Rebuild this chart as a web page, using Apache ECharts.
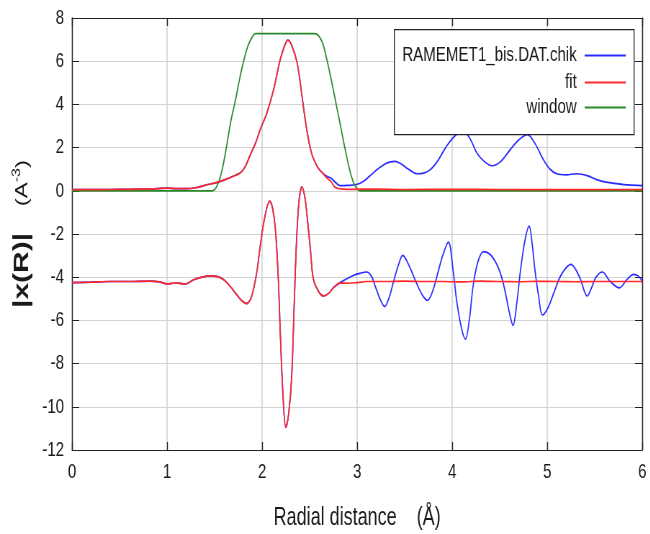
<!DOCTYPE html>
<html>
<head>
<meta charset="utf-8">
<script src="https://cdn.jsdelivr.net/npm/echarts@6/dist/echarts.min.js"></script>
<style>
  html, body { margin: 0; padding: 0; background: #ffffff; overflow: hidden; width: 650px; height: 534px; }
  /* the figure is laid out wide and compressed horizontally */
  #chart { width: 903px; height: 534px; transform: scaleX(0.72); transform-origin: 0 0; }
</style>
</head>
<body>
<div id="chart"></div>
<script>
// |chi(R)| magnitude of the data (upper curve)
const magR = [0, 0.2, 0.4, 0.6, 0.8, 0.9, 1.0, 1.1, 1.2, 1.3, 1.43, 1.52, 1.63, 1.72, 1.77, 1.82, 1.87, 1.93, 1.98, 2.05, 2.12, 2.19, 2.24, 2.27, 2.31, 2.37, 2.42, 2.47, 2.52, 2.58, 2.63, 2.68, 2.72, 2.77, 2.82, 2.9, 2.99, 3.06, 3.13, 3.2, 3.28, 3.34, 3.40, 3.46, 3.52, 3.58, 3.63, 3.70, 3.77, 3.85, 3.94, 4.03, 4.12, 4.19, 4.26, 4.34, 4.42, 4.51, 4.61, 4.70, 4.79, 4.87, 4.96, 5.03, 5.10, 5.2, 5.31, 5.42, 5.52, 5.62, 5.73, 5.85, 6.0];
const magData = [0.05, 0.05, 0.06, 0.07, 0.08, 0.1, 0.12, 0.1, 0.1, 0.14, 0.29, 0.38, 0.55, 0.72, 0.83, 1.1, 1.6, 2.2, 2.83, 3.6, 4.67, 6.06, 6.75, 6.98, 6.75, 5.9, 4.37, 2.83, 1.75, 1.13, 0.85, 0.67, 0.6, 0.4, 0.24, 0.25, 0.29, 0.42, 0.67, 0.95, 1.21, 1.33, 1.36, 1.25, 1.06, 0.88, 0.79, 0.82, 0.98, 1.4, 2.06, 2.55, 2.75, 2.4, 1.75, 1.35, 1.16, 1.35, 1.9, 2.35, 2.6, 2.2, 1.44, 1.0, 0.79, 0.74, 0.79, 0.7, 0.52, 0.4, 0.33, 0.27, 0.24];

// magnitude of the fit
const magFitR = [0, 0.2, 0.4, 0.6, 0.8, 0.9, 1.0, 1.1, 1.2, 1.3, 1.43, 1.52, 1.63, 1.72, 1.77, 1.82, 1.87, 1.93, 1.98, 2.05, 2.12, 2.19, 2.24, 2.27, 2.31, 2.37, 2.42, 2.47, 2.52, 2.58, 2.63, 2.68, 2.72, 2.76, 2.79, 2.85, 2.95, 3.2, 3.5, 4.0, 4.5, 5.0, 5.5, 6.0];
const magFit = [0.05, 0.05, 0.06, 0.07, 0.08, 0.1, 0.12, 0.1, 0.1, 0.14, 0.29, 0.38, 0.55, 0.72, 0.83, 1.1, 1.6, 2.2, 2.83, 3.6, 4.67, 6.06, 6.75, 6.98, 6.75, 5.9, 4.37, 2.83, 1.75, 1.13, 0.85, 0.6, 0.45, 0.2, 0.12, 0.08, 0.07, 0.08, 0.06, 0.07, 0.06, 0.05, 0.05, 0.05];

// Fourier transform window
const winR = [0, 1.47, 1.52, 1.57, 1.62, 1.67, 1.72, 1.76, 1.80, 1.85, 1.90, 1.93, 2.56, 2.60, 2.64, 2.68, 2.73, 2.78, 2.83, 2.87, 2.92, 2.97, 3.03, 6.0];
const winData = [0, 0, 0.18, 0.8, 1.9, 3.2, 4.2, 5.1, 5.9, 6.7, 7.15, 7.28, 7.28, 7.15, 6.8, 6.1, 5.1, 4.0, 2.9, 2.0, 1.0, 0.3, 0, 0];

// real part of the data, shifted down (lower curve)
const reR = [0, 0.2, 0.4, 0.6, 0.82, 0.92, 1.0, 1.06, 1.12, 1.19, 1.28, 1.37, 1.45, 1.52, 1.59, 1.66, 1.73, 1.79, 1.84, 1.88, 1.91, 1.95, 1.98, 2.03, 2.08, 2.11, 2.14, 2.17, 2.19, 2.22, 2.25, 2.28, 2.31, 2.34, 2.36, 2.39, 2.42, 2.45, 2.47, 2.51, 2.54, 2.60, 2.65, 2.70, 2.75, 2.82, 2.96, 3.03, 3.10, 3.15, 3.19, 3.24, 3.29, 3.34, 3.38, 3.43, 3.48, 3.55, 3.63, 3.69, 3.74, 3.79, 3.84, 3.90, 3.96, 4.01, 4.05, 4.10, 4.14, 4.18, 4.22, 4.27, 4.33, 4.40, 4.47, 4.52, 4.56, 4.60, 4.64, 4.68, 4.72, 4.77, 4.81, 4.84, 4.87, 4.91, 4.95, 5.01, 5.07, 5.15, 5.25, 5.30, 5.35, 5.42, 5.47, 5.51, 5.58, 5.66, 5.76, 5.84, 5.91, 5.96, 6.0];
const reData = [-4.25, -4.23, -4.2, -4.2, -4.18, -4.22, -4.31, -4.28, -4.27, -4.32, -4.12, -4.0, -3.94, -3.96, -4.1, -4.4, -4.79, -5.1, -5.22, -5.0, -4.56, -3.6, -2.56, -1.18, -0.48, -0.8, -1.79, -4.0, -6.41, -9.49, -10.95, -10.3, -8.72, -5.0, -2.56, -0.4, 0.18, -0.3, -1.02, -2.8, -4.1, -4.7, -4.87, -4.75, -4.49, -4.25, -3.92, -3.82, -3.76, -3.95, -4.41, -5.0, -5.36, -4.9, -4.25, -3.5, -2.99, -3.5, -4.33, -4.85, -5.07, -4.7, -3.95, -3.0, -2.38, -3.7, -5.18, -6.4, -6.87, -6.0, -4.41, -3.3, -2.82, -2.95, -3.41, -4.0, -4.72, -5.6, -6.23, -5.2, -3.64, -2.2, -1.64, -2.4, -3.64, -4.9, -5.75, -5.4, -4.72, -3.87, -3.41, -3.65, -4.1, -4.87, -4.45, -4.02, -3.76, -4.18, -4.49, -4.1, -3.87, -3.95, -4.18];

// real part of the fit, shifted down
const reFitR = [0, 0.2, 0.4, 0.6, 0.82, 0.92, 1.0, 1.06, 1.12, 1.19, 1.28, 1.37, 1.45, 1.52, 1.59, 1.66, 1.73, 1.79, 1.84, 1.88, 1.91, 1.95, 1.98, 2.03, 2.08, 2.11, 2.14, 2.17, 2.19, 2.22, 2.25, 2.28, 2.31, 2.34, 2.36, 2.39, 2.42, 2.45, 2.47, 2.51, 2.54, 2.60, 2.65, 2.70, 2.75, 2.82, 2.9, 3.0, 3.1, 3.3, 3.5, 3.7, 3.9, 4.1, 4.3, 4.5, 4.7, 4.9, 5.1, 5.3, 5.5, 5.7, 5.9, 6.0];
const reFit = [-4.25, -4.23, -4.2, -4.2, -4.18, -4.22, -4.31, -4.28, -4.27, -4.32, -4.12, -4.0, -3.94, -3.96, -4.1, -4.4, -4.79, -5.1, -5.22, -5.0, -4.56, -3.6, -2.56, -1.18, -0.48, -0.8, -1.79, -4.0, -6.41, -9.49, -10.95, -10.3, -8.72, -5.0, -2.56, -0.4, 0.18, -0.3, -1.02, -2.8, -4.1, -4.7, -4.87, -4.75, -4.49, -4.27, -4.28, -4.25, -4.2, -4.2, -4.18, -4.2, -4.2, -4.22, -4.18, -4.2, -4.21, -4.19, -4.2, -4.21, -4.2, -4.2, -4.2, -4.2];

const xTicks = { min: 0, max: 6, interval: 1 };
const yTicks = { min: -12, max: 8, interval: 2 };

const seriesNames = ['RAMEMET1_bis.DAT.chik', 'fit', 'window'];
const colors = { data: '#2b2bff', fit: '#ff2a2a', win: '#2a8a2a' };

const FONT = "'Liberation Sans', Arial, sans-serif";
const INK = '#1a1a1a';

function pairs(xs, ys) { return xs.map((x, i) => [x, ys[i]]); }

function lineSeries(name, xs, ys, color, z) {
  return {
    name: name, type: 'line', data: pairs(xs, ys),
    showSymbol: false, symbol: 'none', smooth: 0.35, z: z,
    lineStyle: { color: color, width: 1.7 },
    itemStyle: { color: color },
    animation: false
  };
}

const chart = echarts.init(document.getElementById('chart'), null, { renderer: 'canvas' });

function legendRow(name, top) {
  return {
    data: [name], orient: 'vertical', right: 34, top: top, padding: 0, z: 20,
    align: 'right', icon: 'rect', itemWidth: 57, itemHeight: 2,
    selectedMode: false,
    textStyle: { fontFamily: FONT, fontSize: 21, color: INK, padding: [0, 6, 0, 0] }
  };
}

// frame lines: horizontal ones keep 1px, vertical ones are widened to survive the compression
const hLine = { show: true, onZero: false, lineStyle: { color: '#222', width: 1 } };
const vLine = { show: true, onZero: false, lineStyle: { color: '#222', width: 1.4 } };
const xTick = { show: true, inside: true, length: 8, lineStyle: { color: '#222', width: 1.4 } };
const yTick = { show: true, inside: true, length: 10, lineStyle: { color: '#222', width: 1 } };

chart.setOption({
  backgroundColor: '#ffffff',
  animation: false,
  grid: { left: 100, right: 11, top: 18, bottom: 84, containLabel: false, outerBoundsMode: 'none' },
  graphic: [{
    type: 'rect', left: 547, top: 29, z: 10,
    shape: { width: 333, height: 105 },
    style: { fill: '#ffffff', stroke: '#222', lineWidth: 1.3 }
  }],
  legend: [legendRow(seriesNames[0], 45), legendRow(seriesNames[1], 72), legendRow(seriesNames[2], 97)],
  xAxis: [{
    type: 'value', min: xTicks.min, max: xTicks.max, interval: xTicks.interval,
    axisLine: hLine, axisTick: xTick,
    axisLabel: { fontFamily: FONT, fontSize: 21, color: INK, margin: 12 },
    splitLine: { show: true, lineStyle: { color: '#cfcfcf', width: 1.5 } },
    name: 'Radial distance    (Å)', nameLocation: 'middle', nameGap: 56,
    nameTextStyle: { fontFamily: FONT, fontSize: 25, color: INK }
  }, {
    type: 'value', position: 'top', min: xTicks.min, max: xTicks.max, interval: xTicks.interval,
    axisLine: hLine, axisTick: xTick,
    axisLabel: { show: false }, splitLine: { show: false }
  }],
  yAxis: [{
    type: 'value', min: yTicks.min, max: yTicks.max, interval: yTicks.interval,
    axisLine: vLine, axisTick: yTick,
    axisLabel: { fontFamily: FONT, fontSize: 21, color: INK, margin: 11 },
    splitLine: { show: true, lineStyle: { color: '#d2d2d2', width: 1 } },
    name: '{a||x(R)|}{b|    (A}{s|-3}{b|)}', nameLocation: 'middle', nameGap: 54,
    nameTextStyle: {
      color: INK,
      rich: {
        a: { fontFamily: FONT, fontSize: 30, fontWeight: 'bold', color: INK },
        b: { fontFamily: FONT, fontSize: 24, color: INK },
        s: { fontFamily: FONT, fontSize: 16, color: INK, verticalAlign: 'top', padding: [0, 0, 12, 0] }
      }
    }
  }, {
    type: 'value', position: 'right', min: yTicks.min, max: yTicks.max, interval: yTicks.interval,
    axisLine: vLine, axisTick: yTick,
    axisLabel: { show: false }, splitLine: { show: false }
  }],
  series: [
    lineSeries(seriesNames[0], magR, magData, colors.data, 2),
    lineSeries(seriesNames[0], reR, reData, colors.data, 2),
    lineSeries(seriesNames[2], winR, winData, colors.win, 3),
    lineSeries(seriesNames[1], magFitR, magFit, colors.fit, 4),
    lineSeries(seriesNames[1], reFitR, reFit, colors.fit, 4)
  ]
});
</script>
</body>
</html>
